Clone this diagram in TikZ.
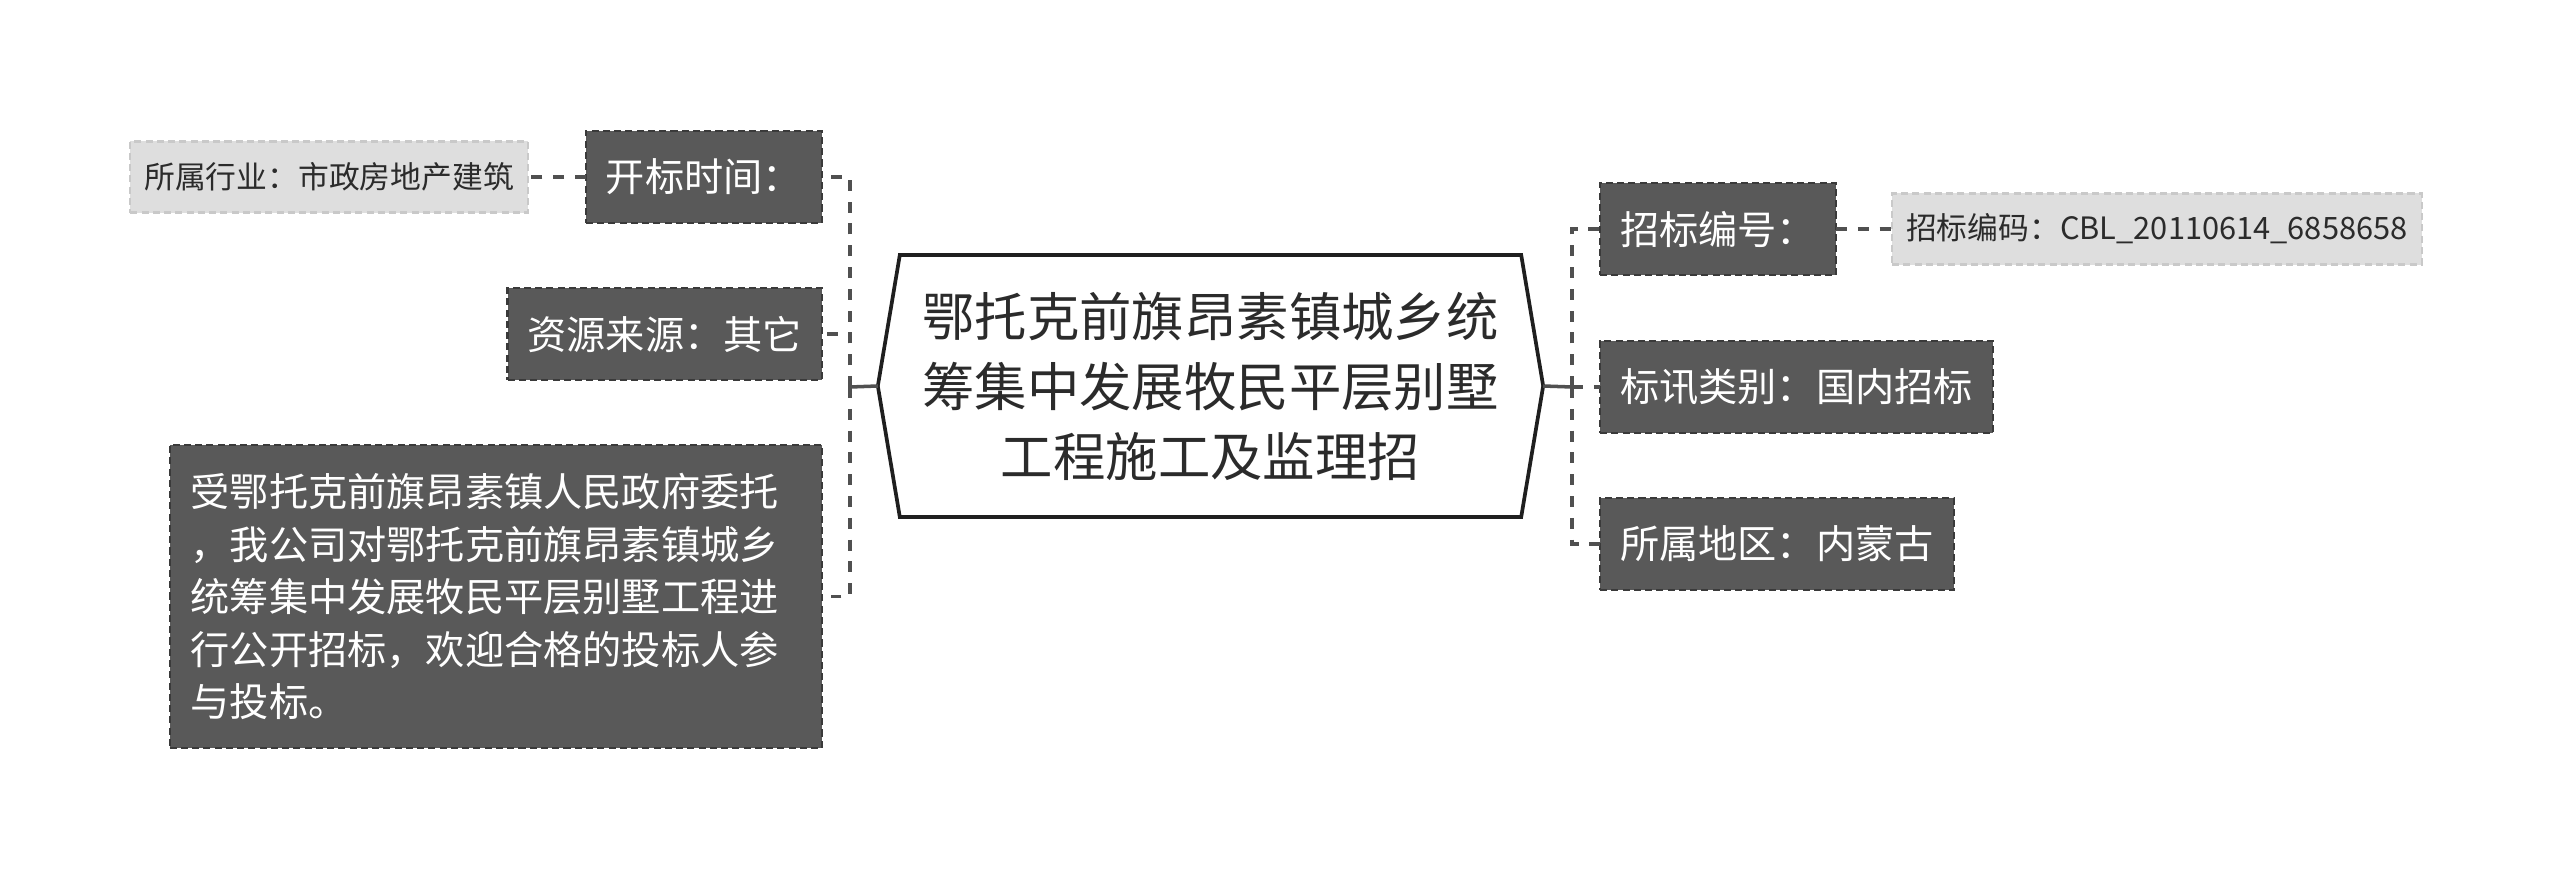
\documentclass[tikz,border=0pt]{standalone}
\usepackage{fontspec}
\setmainfont{Noto Sans CJK SC}
\usetikzlibrary{calc}
\definecolor{boxdark}{HTML}{595959}
\definecolor{edgedark}{HTML}{3A3A3A}
\definecolor{boxlight}{HTML}{DEDEDE}
\definecolor{edgelight}{HTML}{C9C9C9}
\definecolor{linkgray}{HTML}{505050}
\definecolor{inkgray}{HTML}{2B2B2B}

\begin{document}
\begin{tikzpicture}[x=0.01cm, y=-0.01cm]
        \tikzstyle{every node}+=[inner ysep=0pt, outer sep=0pt]
        \tikzstyle{topic}=[fill=boxdark, draw=edgedark, line width=0.6pt, dash pattern=on 2pt off 1.2pt, text=white, font=\fontsize{11.15}{14.94}\selectfont, inner xsep=0.2cm, minimum height=0.92cm]
        \tikzstyle{detail}=[fill=boxlight, draw=edgelight, line width=0.6pt, dash pattern=on 2pt off 1.2pt, text=inkgray, font=\fontsize{8.76}{11}\selectfont, inner xsep=0.14cm, minimum height=0.71cm]
        \tikzstyle{rootbox}=[minimum width=6.21cm, minimum height=2.62cm, align=center, text=inkgray, font=\fontsize{14.9}{19.9}\selectfont]
        \tikzstyle{rootline}=[draw=black!88, line width=1.05pt, line join=miter]
        \tikzstyle{link}=[draw=linkgray, line width=1pt, dash pattern=on 3.1pt off 3.1pt]
        \tikzstyle{stub}=[draw=linkgray, line width=1pt]
        \useasboundingbox (0,0) rectangle (2560,879);
        \node (root) [rootbox] at (1210.5,386) {鄂托克前旗昂素镇城乡统\\筹集中发展牧民平层别墅\\工程施工及监理招};
        \draw [rootline] (root.north west) -- (root.north east) -- ($(root.east)+(22,0)$) coordinate (rootR) -- (root.south east) -- (root.south west) -- ($(root.west)+(-22,0)$) coordinate (rootL) -- cycle;
        \coordinate (jL) at (850,387);
        \coordinate (jR) at (1572,387);
        \node (open) [topic, anchor=east] at (822,177) {开标时间：};
        \node (src) [topic, anchor=east] at (822,334) {资源来源：其它};
        \node (desc) [topic, anchor=east, text width=6.1cm, align=left, inner xsep=0.21cm, minimum height=3.03cm] at (822,596.5) {受鄂托克前旗昂素镇人民政府委托\\，我公司对鄂托克前旗昂素镇城乡\\统筹集中发展牧民平层别墅工程进\\行公开招标，欢迎合格的投标人参\\与投标。};
        \node (trade) [detail, anchor=east] at (528,177) {所属行业：市政房地产建筑};
        \node (code) [topic, anchor=west] at (1600,229) {招标编号：};
        \node (codeval) [detail, anchor=west] at (1892,229) {招标编码：CBL\_20110614\_6858658};
        \node (kind) [topic, anchor=west] at (1600,387) {标讯类别：国内招标};
        \node (area) [topic, anchor=west] at (1600,544) {所属地区：内蒙古};
        \draw [stub] (rootL) -- (jL);
        \draw [stub] (rootR) -- (jR);
        \draw [link] (jL) |- (open.east);
        \draw [link] (jL) |- (src.east);
        \draw [link] (jL) |- (desc.east);
        \draw [link] (open.west) -- (trade.east);
        \draw [link] (jR) |- (code.west);
        \draw [link] (jR) |- (kind.west);
        \draw [link] (jR) |- (area.west);
        \draw [link] (code.east) -- (codeval.west);
\end{tikzpicture}
\end{document}
